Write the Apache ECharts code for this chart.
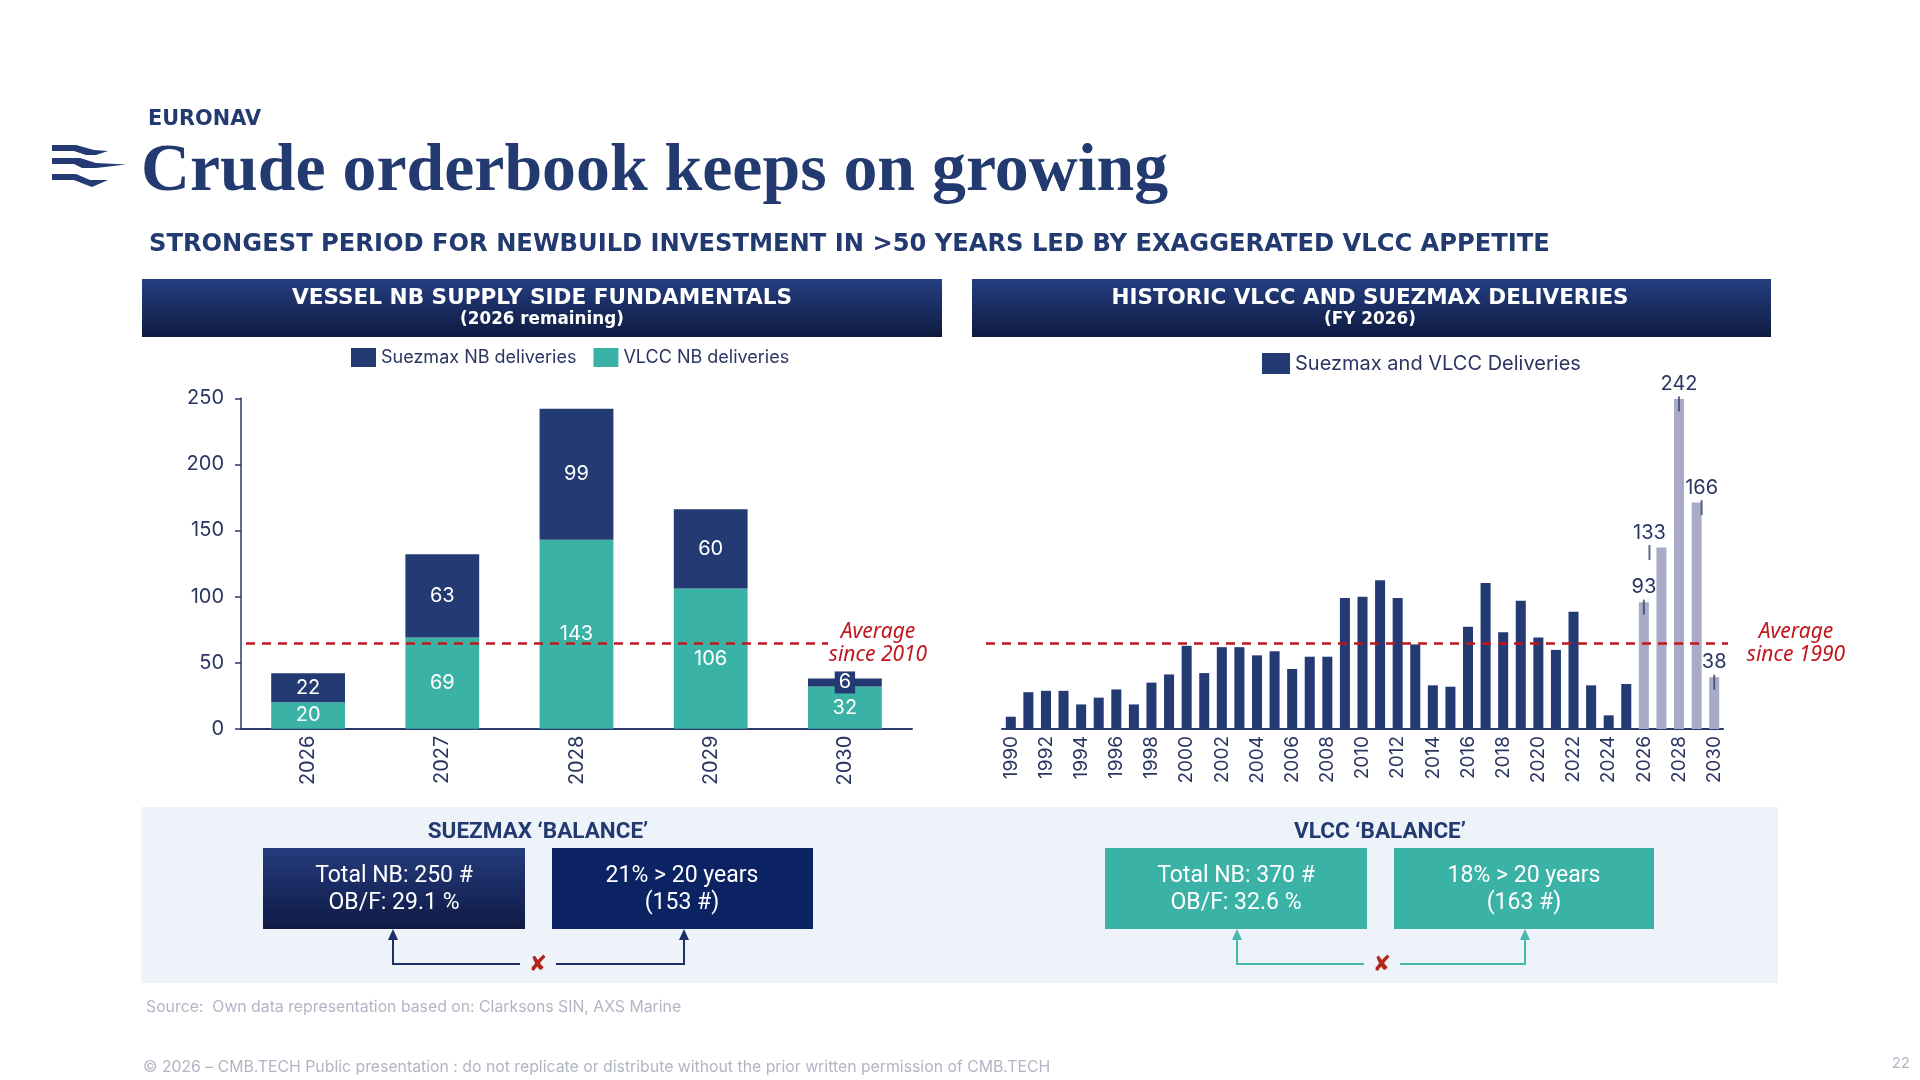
<!DOCTYPE html>
<html>
<head>
<meta charset="utf-8">
<title>Crude orderbook keeps on growing</title>
<script src="https://cdn.jsdelivr.net/npm/echarts@6/dist/echarts.min.js"></script>
<style>
  html, body { margin: 0; padding: 0; background: #fff; }
  #main { width: 1920px; height: 1080px; }
</style>
</head>
<body>
<div id="main"></div>
<script>
// --- left chart: NB deliveries per year (2026 remaining) ---
const nbYears = ['2026', '2027', '2028', '2029', '2030'];
const suezmaxNb = [22, 63, 99, 60, 6];
const vlccNb = [20, 69, 143, 106, 32];
const avgSince2010 = 65;
const nbTicks = [0, 50, 100, 150, 200, 250];

// --- right chart: historic Suezmax + VLCC deliveries ---
const histYears = ['1990', '1991', '1992', '1993', '1994', '1995', '1996', '1997', '1998', '1999',
  '2000', '2001', '2002', '2003', '2004', '2005', '2006', '2007', '2008', '2009',
  '2010', '2011', '2012', '2013', '2014', '2015', '2016', '2017', '2018', '2019',
  '2020', '2021', '2022', '2023', '2024', '2025', '2026', '2027', '2028', '2029', '2030'];
const pastDeliveries = [9, 27, 28, 28, 18, 23, 29, 18, 34, 40,
  61, 41, 60, 60, 54, 57, 44, 53, 53, 96,
  97, 109, 96, 62, 32, 31, 75, 107, 71, 94,
  67, 58, 86, 32, 10, 33];
const orderbookYears = ['2026', '2027', '2028', '2029', '2030'];
const orderbookDeliveries = [93, 133, 242, 166, 38];
const avgSince1990 = 63;

// colours
const NAVY = '#233a72';
const TEAL = '#3ab2a6';
const LAVENDER = '#a9aac7';
const INK = '#2b3561';
const RED = '#c0161e';

const chart = echarts.init(document.getElementById('main'));

// 字体宽度拟合（模拟原图的字距）
const mctx = document.createElement('canvas').getContext('2d');
function fitSize(text, weight, family, width) {
  mctx.font = weight + ' 100px ' + family;
  return Math.round(100 * width / mctx.measureText(text).width * 10) / 10;
}

function txt(x, y, text, o) {
  return {
    type: 'text', x: x, y: y, silent: true,
    style: {
      text: text,
      fill: o.color || INK,
      fontSize: o.size,
      fontFamily: o.family || 'Inter',
      fontWeight: o.weight || 'normal',
      fontStyle: o.style || 'normal',
      lineHeight: o.lineHeight,
      align: o.align || 'left', textAlign: o.align || 'left',
      verticalAlign: 'middle', textVerticalAlign: 'middle'
    }
  };
}
function box(x, y, w, h, fill) {
  return { type: 'rect', silent: true, shape: { x: x, y: y, width: w, height: h }, style: { fill: fill } };
}
function grad(a, b) {
  return new echarts.graphic.LinearGradient(0, 0, 0, 1, [{ offset: 0, color: a }, { offset: 1, color: b }]);
}
function arrowUp(x, y, color) {
  return { type: 'polygon', silent: true, shape: { points: [[x, y], [x - 5, y + 11], [x + 5, y + 11]] }, style: { fill: color } };
}
function link(x1, x2, xm, yTop, yLine, color) {
  return [
    { type: 'polyline', silent: true, shape: { points: [[x1, yTop + 10], [x1, yLine], [xm - 18, yLine]] }, style: { stroke: color, lineWidth: 2, fill: null } },
    { type: 'polyline', silent: true, shape: { points: [[xm + 18, yLine], [x2, yLine], [x2, yTop + 10]] }, style: { stroke: color, lineWidth: 2, fill: null } },
    arrowUp(x1, yTop, color), arrowUp(x2, yTop, color),
    txt(xm, yLine + 1, '\u2718', { size: 22, family: 'DejaVu Sans', weight: 'bold', color: '#b3261e', align: 'center' })
  ];
}

const titleText = 'Crude orderbook keeps on growing';
const subText = 'STRONGEST PERIOD FOR NEWBUILD INVESTMENT IN >50 YEARS LED BY EXAGGERATED VLCC APPETITE';
const leftHead = 'VESSEL NB SUPPLY SIDE FUNDAMENTALS';
const rightHead = 'HISTORIC VLCC AND SUEZMAX DELIVERIES';

const graphics = [
  // logo
  { type: 'polygon', silent: true, shape: { points: [[52, 145], [76, 145], [94, 150], [108, 151], [96, 155], [86, 155], [74, 151], [52, 151]] }, style: { fill: NAVY } },
  { type: 'polygon', silent: true, shape: { points: [[52, 158], [80, 158], [96, 163], [126, 164.5], [96, 168], [82, 168], [74, 164], [52, 164]] }, style: { fill: NAVY } },
  { type: 'polygon', silent: true, shape: { points: [[52, 174], [76, 174], [90, 180], [108, 180], [92, 187], [84, 184], [74, 180], [52, 180]] }, style: { fill: NAVY } },
  txt(148, 120, 'EURONAV', { size: fitSize('EURONAV', 'bold', 'DejaVu Sans', 113), family: 'DejaVu Sans', weight: 'bold', color: '#223a70' }),
  txt(141, 172, titleText, { size: fitSize(titleText, 'bold', 'Liberation Serif', 1027), family: 'Liberation Serif', weight: 'bold', color: '#223a70' }),
  txt(149, 245, subText, { size: fitSize(subText, 'bold', 'DejaVu Sans', 1400), family: 'DejaVu Sans', weight: 'bold', color: '#223a70' }),

  // section headers
  box(142, 279, 800, 58, grad('#253f82', '#0e1a40')),
  box(972, 279, 799, 58, grad('#253f82', '#0e1a40')),
  txt(542, 298, leftHead, { size: fitSize(leftHead, 'bold', 'DejaVu Sans', 501), family: 'DejaVu Sans', weight: 'bold', color: '#fff', align: 'center' }),
  txt(542, 320, '(2026 remaining)', { size: fitSize('(2026 remaining)', 'bold', 'DejaVu Sans', 164), family: 'DejaVu Sans', weight: 'bold', color: '#fff', align: 'center' }),
  txt(1370, 298, rightHead, { size: fitSize(rightHead, 'bold', 'DejaVu Sans', 518), family: 'DejaVu Sans', weight: 'bold', color: '#fff', align: 'center' }),
  txt(1370, 320, '(FY 2026)', { size: fitSize('(FY 2026)', 'bold', 'DejaVu Sans', 92), family: 'DejaVu Sans', weight: 'bold', color: '#fff', align: 'center' }),

  // average annotations
  txt(878, 632, 'Average', { size: 21, style: 'italic', family: 'Noto Sans', color: RED, align: 'center' }),
  txt(878, 655, 'since 2010', { size: 21, style: 'italic', family: 'Noto Sans', color: RED, align: 'center' }),
  txt(1796, 632, 'Average', { size: 21, style: 'italic', family: 'Noto Sans', color: RED, align: 'center' }),
  txt(1796, 655, 'since 1990', { size: 21, style: 'italic', family: 'Noto Sans', color: RED, align: 'center' }),

  // balance panel
  box(141, 807, 1637, 176, '#eef2f9'),
  txt(538, 832, 'SUEZMAX \u2018BALANCE\u2019', { size: 22.5, family: 'Roboto', weight: 'bold', color: '#223a70', align: 'center' }),
  txt(1380, 832, 'VLCC \u2018BALANCE\u2019', { size: 22.5, family: 'Roboto', weight: 'bold', color: '#223a70', align: 'center' }),
  box(263, 848, 262, 81, grad('#243b7c', '#0f1a45')),
  box(552, 848, 261, 81, '#0b2263'),
  box(1105, 848, 262, 81, TEAL),
  box(1394, 848, 260, 81, TEAL),
  txt(394, 876, 'Total NB: 250 #', { size: 23, family: 'Roboto', color: '#fff', align: 'center' }),
  txt(394, 903, 'OB/F: 29.1 %', { size: 23, family: 'Roboto', color: '#fff', align: 'center' }),
  txt(682, 876, '21% > 20 years', { size: 23, family: 'Roboto', color: '#fff', align: 'center' }),
  txt(682, 903, '(153 #)', { size: 23, family: 'Roboto', color: '#fff', align: 'center' }),
  txt(1236, 876, 'Total NB: 370 #', { size: 23, family: 'Roboto', color: '#fff', align: 'center' }),
  txt(1236, 903, 'OB/F: 32.6 %', { size: 23, family: 'Roboto', color: '#fff', align: 'center' }),
  txt(1524, 876, '18% > 20 years', { size: 23, family: 'Roboto', color: '#fff', align: 'center' }),
  txt(1524, 903, '(163 #)', { size: 23, family: 'Roboto', color: '#fff', align: 'center' })
].concat(
  link(393, 684, 538, 929, 964, '#1c2f6b'),
  link(1237, 1525, 1382, 929, 964, '#45b8ac'),
  [
    txt(146, 1007, 'Source:  Own data representation based on: Clarksons SIN, AXS Marine', { size: 15.8, color: '#b2b5c4' }),
    txt(143, 1067, '\u00a9 2026 \u2013 CMB.TECH Public presentation : do not replicate or distribute without the prior written permission of CMB.TECH', { size: 15.8, color: '#b2b5c4' }),
    txt(1910, 1063, '22', { size: 15, color: '#b2b5c4', align: 'right' })
  ]
);

// 右图：历史数据 + 订单簿（浅色）
const pastSeries = pastDeliveries.concat(orderbookDeliveries.map(() => null));
const obShift = [0, -12, 0, 5, 0];
const obSeries = pastDeliveries.map(() => null).concat(orderbookDeliveries.map((v, i) => ({
  value: v,
  label: { offset: [obShift[i], 0] }
})));
const obTicks = orderbookDeliveries.map((v, i) => ({
  value: [orderbookYears[i], v],
  symbolOffset: [obShift[i], 5]
}));

const axisLabelStyle = { color: INK, fontFamily: 'Inter', fontSize: 20 };
const avgLine = (value, x1, x2) => ({
  silent: true,
  symbol: 'none',
  label: { show: false },
  lineStyle: { color: RED, type: [9, 7], width: 2.5 },
  data: [[{ x: x1, yAxis: value }, { x: x2, yAxis: value }]]
});

chart.setOption({
  animation: false,
  backgroundColor: '#fff',
  textStyle: { fontFamily: 'Inter' },
  graphic: graphics,
  legend: [
    {
      left: 346, top: 343, itemWidth: 25, itemHeight: 19, itemGap: 17, icon: 'rect',
      textStyle: { color: INK, fontSize: 18, fontFamily: 'Inter' },
      data: ['Suezmax NB deliveries', 'VLCC NB deliveries']
    },
    {
      left: 1257, top: 348, itemWidth: 28, itemHeight: 21, icon: 'rect',
      textStyle: { color: INK, fontSize: 20, fontFamily: 'Inter' },
      data: ['Suezmax and VLCC Deliveries']
    }
  ],
  grid: [
    { left: 241, top: 398.3, width: 671, height: 330.4 },
    { left: 1002, top: 388, width: 721, height: 341 }
  ],
  xAxis: [
    {
      gridIndex: 0, type: 'category', data: nbYears,
      axisLine: { lineStyle: { color: '#2b3a6e', width: 2 } },
      axisTick: { show: false },
      axisLabel: Object.assign({ rotate: 90, margin: 7 }, axisLabelStyle)
    },
    {
      gridIndex: 1, type: 'category', data: histYears,
      axisLine: { lineStyle: { color: '#2b3a6e', width: 2 } },
      axisTick: { show: false },
      axisLabel: Object.assign({}, axisLabelStyle, { rotate: 90, margin: 7, interval: 1, fontSize: 19 })
    }
  ],
  yAxis: [
    {
      gridIndex: 0, type: 'value', min: nbTicks[0], max: nbTicks[nbTicks.length - 1], interval: 50,
      axisLine: { show: true, lineStyle: { color: '#2b3a6e', width: 1.5 } },
      axisTick: { show: true, length: 6, lineStyle: { color: '#2b3a6e', width: 1.5 } },
      splitLine: { show: false },
      axisLabel: Object.assign({ margin: 17 }, axisLabelStyle)
    },
    {
      gridIndex: 1, type: 'value', min: 0, max: 250, show: false,
      splitLine: { show: false }
    }
  ],
  series: [
    {
      name: 'VLCC NB deliveries', type: 'bar', stack: 'nb', xAxisIndex: 0, yAxisIndex: 0,
      data: vlccNb, barWidth: '55%',
      itemStyle: { color: TEAL },
      label: { show: true, position: 'inside', color: '#fff', fontSize: 20, fontFamily: 'Inter' },
      markLine: avgLine(avgSince2010, 246, 828)
    },
    {
      name: 'Suezmax NB deliveries', type: 'bar', stack: 'nb', xAxisIndex: 0, yAxisIndex: 0,
      data: suezmaxNb.map((v, i) => i === suezmaxNb.length - 1
        ? { value: v, label: { backgroundColor: NAVY, padding: [1, 4] } }
        : v),
      barWidth: '55%',
      itemStyle: { color: NAVY },
      label: { show: true, position: 'inside', color: '#fff', fontSize: 20, fontFamily: 'Inter' }
    },
    {
      name: 'Suezmax and VLCC Deliveries', type: 'bar', stack: 'hist', xAxisIndex: 1, yAxisIndex: 1,
      data: pastSeries, barWidth: '57%',
      itemStyle: { color: NAVY },
      markLine: avgLine(avgSince1990, 986, 1728)
    },
    {
      name: 'Orderbook deliveries', type: 'bar', stack: 'hist', xAxisIndex: 1, yAxisIndex: 1,
      data: obSeries, barWidth: '57%',
      itemStyle: { color: LAVENDER },
      label: { show: true, position: 'top', distance: 5, color: INK, fontSize: 20, fontFamily: 'Inter' }
    },
    {
      name: 'Orderbook leaders', type: 'scatter', xAxisIndex: 1, yAxisIndex: 1,
      data: obTicks, symbol: 'rect', symbolSize: [2, 15], silent: true,
      itemStyle: { color: '#3a4468' }, z: 5
    }
  ]
});

window.addEventListener('resize', () => chart.resize());
</script>
</body>
</html>
